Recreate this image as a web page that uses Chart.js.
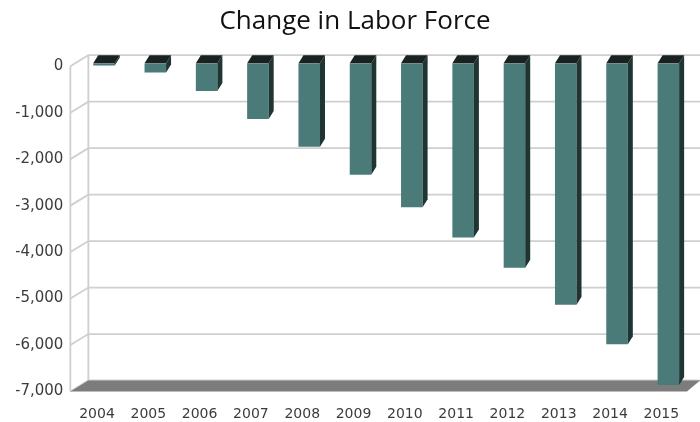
<!DOCTYPE html>
<html>
<head>
<meta charset="utf-8">
<script src="https://cdn.jsdelivr.net/npm/chart.js@4/dist/chart.umd.min.js"></script>
<style>
  html, body { margin: 0; padding: 0; background: #ffffff; }
  #wrap { width: 700px; height: 422px; }
</style>
</head>
<body>
<div id="wrap"><canvas id="c"></canvas></div>
<script>
// Change in labor force by year
const years = ['2004', '2005', '2006', '2007', '2008', '2009', '2010', '2011', '2012', '2013', '2014', '2015'];
const laborChange = [-50, -200, -600, -1200, -1800, -2400, -3100, -3750, -4400, -5200, -6050, -6925];
const yTickValues = [0, -1000, -2000, -3000, -4000, -5000, -6000, -7000];

// Oblique projection offsets (pixels)
const AXIS_SHIFT_X = -8, AXIS_SHIFT_Y = 3;   // front axis plane relative to bar faces
const WALL_SHIFT_X = 10, WALL_SHIFT_Y = -8;  // back wall relative to bar faces
const BAR_DEPTH_X = 5, BAR_DEPTH_Y = -8;     // depth of each column

// Back wall, gridlines and floor
const wallPlugin = {
  id: 'wall',
  beforeDatasetsDraw(chart) {
    const { ctx, chartArea, scales } = chart;
    const y = scales.y;
    const fx = chartArea.left + AXIS_SHIFT_X;
    const bx = chartArea.left + WALL_SHIFT_X;
    const W = chart.width;
    const yTop = y.getPixelForValue(0);
    const yBot = y.getPixelForValue(-7000);
    ctx.save();
    ctx.strokeStyle = '#cfcfcf';
    ctx.lineWidth = 1.8;
    yTickValues.forEach(v => {
      const py = y.getPixelForValue(v);
      ctx.beginPath();
      ctx.moveTo(fx, py + AXIS_SHIFT_Y);
      ctx.lineTo(bx, py + WALL_SHIFT_Y);
      ctx.lineTo(W, py + WALL_SHIFT_Y);
      ctx.stroke();
    });
    ctx.beginPath();
    ctx.moveTo(fx, yTop + AXIS_SHIFT_Y);
    ctx.lineTo(fx, yBot + AXIS_SHIFT_Y);
    ctx.moveTo(bx, yTop + WALL_SHIFT_Y);
    ctx.lineTo(bx, yBot + WALL_SHIFT_Y);
    ctx.stroke();
    // floor
    ctx.beginPath();
    ctx.moveTo(fx, yBot + AXIS_SHIFT_Y);
    ctx.lineTo(bx, yBot + WALL_SHIFT_Y);
    ctx.lineTo(W, yBot + WALL_SHIFT_Y);
    ctx.lineTo(W - 13, yBot + AXIS_SHIFT_Y);
    ctx.closePath();
    ctx.fillStyle = '#7c7c7c';
    ctx.fill();
    ctx.restore();
  }
};

// Top and side faces of each column
const columnPlugin = {
  id: 'columns3d',
  afterDatasetsDraw(chart) {
    const { ctx } = chart;
    const meta = chart.getDatasetMeta(0);
    ctx.save();
    meta.data.forEach(bar => {
      const { x, y, base, width } = bar.getProps(['x', 'y', 'base', 'width'], true);
      const l = x - width / 2, r = x + width / 2;
      const top = Math.min(y, base), bot = Math.max(y, base);
      // side face
      ctx.beginPath();
      ctx.moveTo(r, top);
      ctx.lineTo(r + BAR_DEPTH_X, top + BAR_DEPTH_Y);
      ctx.lineTo(r + BAR_DEPTH_X, bot + BAR_DEPTH_Y);
      ctx.lineTo(r, bot);
      ctx.closePath();
      ctx.fillStyle = '#1f3533';
      ctx.fill();
      // top face
      ctx.beginPath();
      ctx.moveTo(l, top);
      ctx.lineTo(l + BAR_DEPTH_X, top + BAR_DEPTH_Y);
      ctx.lineTo(r + BAR_DEPTH_X, top + BAR_DEPTH_Y);
      ctx.lineTo(r, top);
      ctx.closePath();
      ctx.fillStyle = '#1a2221';
      ctx.fill();
    });
    ctx.restore();
  }
};

new Chart(document.getElementById('c'), {
  type: 'bar',
  data: {
    labels: years,
    datasets: [{
      label: 'Change in Labor Force',
      data: laborChange,
      backgroundColor: '#4a7b78',
      borderWidth: 0,
      categoryPercentage: 1,
      barPercentage: 0.42
    }]
  },
  options: {
    responsive: true,
    maintainAspectRatio: false,
    animation: false,
    locale: 'en-US',
    layout: { padding: { left: 16, right: 6, top: 0, bottom: 0 } },
    plugins: {
      legend: { display: false },
      tooltip: { enabled: false },
      title: {
        display: true,
        text: 'Change in Labor Force',
        color: '#111111',
        font: { family: 'Open Sans', size: 26, weight: 'normal' },
        padding: { top: 6, bottom: 26 }
      }
    },
    scales: {
      x: {
        grid: { display: false },
        border: { display: false },
        afterFit(scale) { scale.height = 33.5; },
        ticks: {
          color: '#3c3c3c',
          font: { family: 'DejaVu Sans', size: 14 },
          padding: 9,
          labelOffset: -7,
          maxRotation: 0,
          autoSkip: false
        }
      },
      y: {
        min: -7000,
        max: 0,
        grid: { display: false },
        border: { display: false },
        afterFit(scale) { scale.width = 62.35; },
        afterBuildTicks(scale) { scale.ticks = yTickValues.map(v => ({ value: v })); },
        ticks: {
          color: '#3c3c3c',
          font: { family: 'DejaVu Sans', size: 15 },
          padding: 7,
          labelOffset: 3
        }
      }
    }
  },
  plugins: [wallPlugin, columnPlugin]
});
</script>
</body>
</html>
